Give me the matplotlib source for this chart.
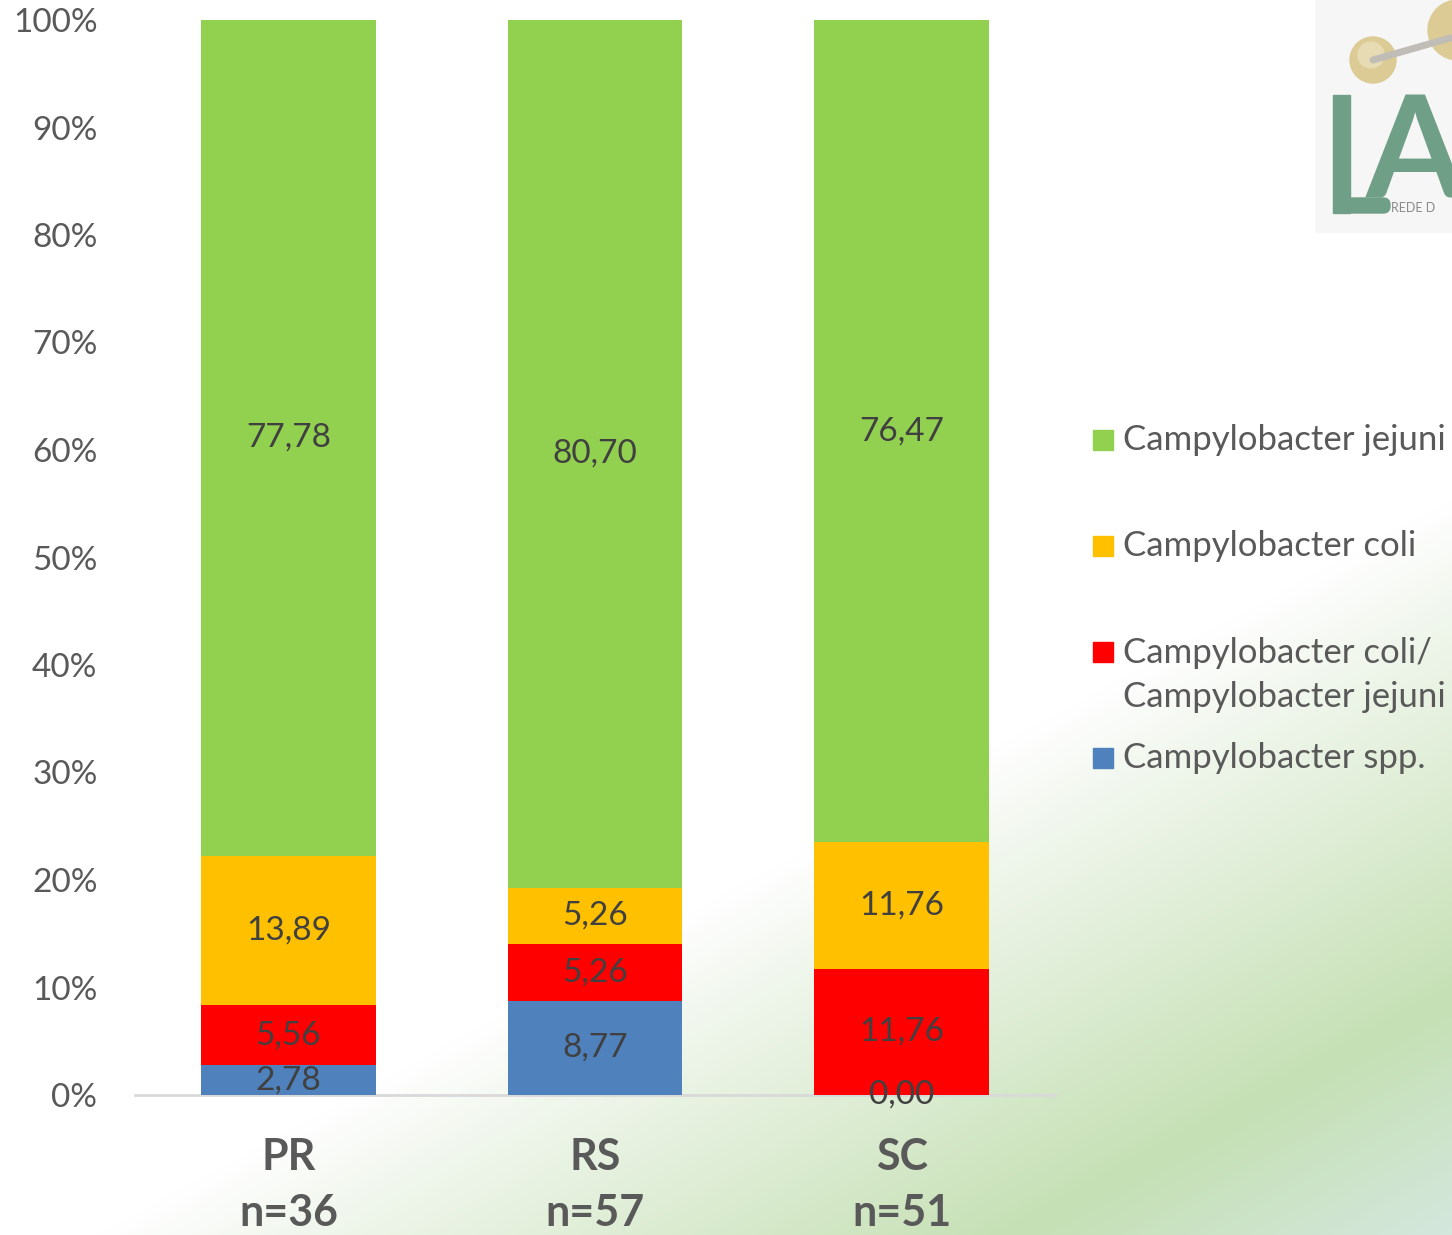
import numpy as np
import matplotlib.pyplot as plt
from matplotlib.patches import Rectangle, Circle, FancyBboxPatch

# Campylobacter species share by state (%)
states = ['PR', 'RS', 'SC']
n_samples = [36, 57, 51]
spp = [2.78, 8.77, 0.00]
coli_jejuni = [5.56, 5.26, 11.76]
coli = [13.89, 5.26, 11.76]
jejuni = [77.78, 80.70, 76.47]

series = [
    ('Campylobacter spp.', spp, '#4F81BD'),
    ('Campylobacter coli/\nCampylobacter jejuni', coli_jejuni, '#FF0000'),
    ('Campylobacter coli', coli, '#FFC000'),
    ('Campylobacter jejuni', jejuni, '#92D050'),
]

W, H = 1452, 1235
plt.rcParams['font.family'] = ['Lato', 'DejaVu Sans']
fig = plt.figure(figsize=(W / 100, H / 100), dpi=100)


def fx(px):
    return px / W


def fy(py):
    return 1 - py / H


# Diagonal slide background: white top-left fading to soft green bottom-right
bg = fig.add_axes([0, 0, 1, 1], zorder=-10)
xx, yy = np.meshgrid(np.arange(W), np.arange(H))
t = 0.477 * xx + 0.879 * yy
stops_t = [0, 1130, 1210, 1571, 1800]
stops_c = np.array([[255, 255, 255], [255, 255, 255], [243, 248, 240],
                    [197, 224, 180], [214, 232, 226]]) / 255
img = np.stack([np.interp(t, stops_t, stops_c[:, k]) for k in range(3)], axis=-1)
bg.imshow(img, extent=(0, W, H, 0), aspect='auto')
bg.set_xlim(0, W)
bg.set_ylim(H, 0)
bg.axis('off')

# Main stacked bars
ax = fig.add_axes([fx(135), fy(1095), fx(1055) - fx(135), fy(20) - fy(1095)])
ax.patch.set_alpha(0)
x = np.arange(len(states))
bottom = np.zeros(len(states))
for name, vals, color in series:
    bars = ax.bar(x, vals, width=0.57, bottom=bottom, color=color, zorder=2)
    ax.bar_label(bars, labels=[f'{v:.2f}'.replace('.', ',') for v in vals],
                 label_type='center', fontsize=24, color='#404040')
    bottom += np.array(vals)

ax.set_xlim(-0.5, 2.5)
ax.set_ylim(0, 100)
ax.set_yticks(np.arange(0, 101, 10))
ax.set_yticklabels([f'{v}%' for v in range(0, 101, 10)], fontsize=24, color='#595959')
ax.set_xticks(x)
ax.set_xticklabels([f'{s}\nn={n}' for s, n in zip(states, n_samples)],
                   fontsize=31, fontweight='bold', color='#595959', linespacing=1.5)
ax.tick_params(axis='y', length=0, pad=27)
ax.tick_params(axis='x', length=0, pad=30)
for side in ['left', 'right', 'top']:
    ax.spines[side].set_visible(False)
ax.spines['bottom'].set_color('#D9D9D9')
ax.spines['bottom'].set_linewidth(2)
ax.spines['bottom'].set_zorder(1)

# Legend, top entry first; the wrapped label hangs from its first line
legend_y = [440, 546, 652, 758]
for (name, vals, color), ly in zip(series[::-1], legend_y):
    fig.patches.append(Rectangle((fx(1093), fy(ly + 10)), fx(20), 20 / H,
                                 transform=fig.transFigure, color=color))
    if '\n' in name:
        fig.text(fx(1123), fy(ly - 15), name, fontsize=25, color='#595959',
                 va='top', ha='left', linespacing=1.45)
    else:
        fig.text(fx(1123), fy(ly), name, fontsize=25, color='#595959',
                 va='center', ha='left')

# Logo in the top-right corner
lg = fig.add_axes([fx(1315), fy(233), fx(137), 233 / H])
lg.set_xlim(1315, 1452)
lg.set_ylim(233, 0)
lg.axis('off')
lg.add_patch(Rectangle((1315, 0), 137, 233, color='#F6F6F6'))
lg.plot([1373, 1450], [60, 38], color='#BFBDB5', lw=5, solid_capstyle='round')
lg.add_patch(Circle((1373, 60), 23, color='#DCCB94'))
lg.add_patch(Circle((1371, 55), 13, color='#E6DBB2'))
lg.add_patch(Circle((1458, 30), 30, color='#DCCB94'))
lg.add_patch(Rectangle((1333, 95), 17, 118, color='#6F9F86'))
lg.add_patch(FancyBboxPatch((1336, 198), 54, 15, boxstyle='round,pad=0,rounding_size=7',
                            color='#6F9F86'))
lg.text(1366, 197, 'A', fontsize=102, fontweight='bold', color='#6F9F86',
        ha='left', va='baseline', clip_on=True)
lg.text(1391, 208, 'REDE D', fontsize=9, color='#8A8A8A', ha='left', va='center',
        clip_on=True)

fig.savefig('out.png', dpi=100)
